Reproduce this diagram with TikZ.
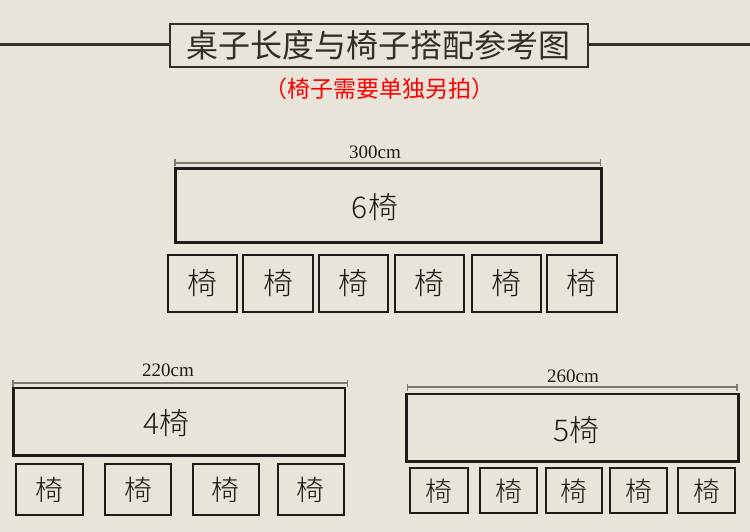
\documentclass[tikz,border=0pt]{standalone}
\usepackage{fontspec}
\newfontfamily\cjk{Noto Sans CJK SC}
\newfontfamily\cjkl{Noto Sans CJK SC}[UprightFont={* Light}]
\newfontfamily\dimfont{Liberation Serif}
\usetikzlibrary{arrows.meta}
\definecolor{bgc}{RGB}{233,228,218}
\definecolor{titlec}{RGB}{52,46,40}
\definecolor{dimc}{RGB}{125,120,112}
\definecolor{inkc}{RGB}{30,28,26}
\definecolor{redc}{RGB}{255,0,0}
\tikzset{
  tablebox/.style={draw=inkc, line width=3pt, inner sep=0pt, rectangle},
  tableboxb/.style={draw=inkc, line width=2.5pt, inner sep=0pt, rectangle},
  chairbox/.style={draw=inkc, line width=2pt, inner sep=0pt, rectangle,
    text=inkc, font=\cjkl\fontsize{30pt}{32pt}\selectfont},
  chairboxm/.style={chairbox, font=\cjkl\fontsize{28pt}{30pt}\selectfont},
  chairboxs/.style={chairbox, font=\cjkl\fontsize{27pt}{29pt}\selectfont},
  tabletext/.style={inner sep=0pt, text=inkc, font=\cjkl\fontsize{30pt}{32pt}\selectfont},
  dimline/.style={draw=dimc, line width=1.8pt, {Bar[width=7pt,line width=1.5pt]}-{Bar[width=7pt,line width=1.5pt]}},
  dimlabel/.style={inner sep=0pt, text=inkc, font=\dimfont\fontsize{19pt}{20pt}\selectfont},
}
\begin{document}
\begin{tikzpicture}[x=1pt,y=-1pt]
\fill[bgc] (0,0) rectangle (750,532);
\useasboundingbox (0,0) rectangle (750,532);

% title
\node[draw=titlec, line width=2pt, rectangle, inner sep=0pt, minimum width=417.5pt, minimum height=43pt,
  text=titlec, font=\cjk\fontsize{32pt}{34pt}\selectfont] (title) at (378.75,45.5) {桌子长度与椅子搭配参考图};
\coordinate (tl) at (0,44.5);
\coordinate (tr) at (750,44.5);
\draw[titlec, line width=2.5pt] (tl) -- (title.west |- tl);
\draw[titlec, line width=2.5pt] (title.east |- tr) -- (tr);
\node[inner sep=0pt, text=redc, font=\cjk\fontsize{23pt}{25pt}\selectfont] (sub) at (379,89) {（椅子需要单独另拍）};

% top: 300cm
\coordinate (d1a) at (174,163);
\coordinate (d1b) at (601,163);
\draw[dimline] (d1a) -- (d1b);
\node[dimlabel] (l1) at (375,152) {300cm};
\node[tablebox, minimum width=426.5pt, minimum height=73.5pt] (t1) at (388.25,205.75) {};
\node[tabletext] (t1txt) at (375,207) {6椅};
\node[chairbox, minimum width=69.6pt, minimum height=57pt] (c11) at (202.5,283.5) {椅};
\node[chairbox, minimum width=70pt, minimum height=57pt] (c12) at (278.3,283.5) {椅};
\node[chairbox, minimum width=69.6pt, minimum height=57pt] (c13) at (353.5,283.5) {椅};
\node[chairbox, minimum width=69.3pt, minimum height=57pt] (c14) at (429.7,283.5) {椅};
\node[chairbox, minimum width=69.3pt, minimum height=57pt] (c15) at (506.3,283.5) {椅};
\node[chairbox, minimum width=70pt, minimum height=57pt] (c16) at (581.7,283.5) {椅};

% bottom left: 220cm
\coordinate (d2a) at (12,383.3);
\coordinate (d2b) at (348,383.3);
\draw[dimline] (d2a) -- (d2b);
\node[dimlabel] (l2) at (168,370) {220cm};
\node[tableboxb, minimum width=331.3pt, minimum height=67.7pt] (t2) at (179.3,421.8) {};
\node[tabletext] (t2txt) at (166.7,423) {4椅};
\node[chairboxm, minimum width=66.7pt, minimum height=51.3pt] (c21) at (49.7,489.7) {椅};
\node[chairboxm, minimum width=66.6pt, minimum height=51.3pt] (c22) at (138,489.7) {椅};
\node[chairboxm, minimum width=66.3pt, minimum height=51.3pt] (c23) at (225.8,489.7) {椅};
\node[chairboxm, minimum width=66pt, minimum height=51.3pt] (c24) at (310.7,489.7) {椅};

% bottom right: 260cm
\coordinate (d3a) at (406.7,387.3);
\coordinate (d3b) at (737.7,387.3);
\draw[dimline] (d3a) -- (d3b);
\node[dimlabel] (l3) at (573,376) {260cm};
\node[tableboxb, minimum width=331.6pt, minimum height=67.7pt] (t3) at (572.5,427.8) {};
\node[tabletext] (t3txt) at (576.7,430) {5椅};
\node[chairboxs, minimum width=57.4pt, minimum height=45pt] (c31) at (439,490.8) {椅};
\node[chairboxs, minimum width=56.7pt, minimum height=45pt] (c32) at (508.7,490.8) {椅};
\node[chairboxs, minimum width=56.6pt, minimum height=45pt] (c33) at (574,490.8) {椅};
\node[chairboxs, minimum width=56.7pt, minimum height=45pt] (c34) at (638.7,490.8) {椅};
\node[chairboxs, minimum width=56.7pt, minimum height=45pt] (c35) at (706.7,490.8) {椅};
\end{tikzpicture}
\end{document}
